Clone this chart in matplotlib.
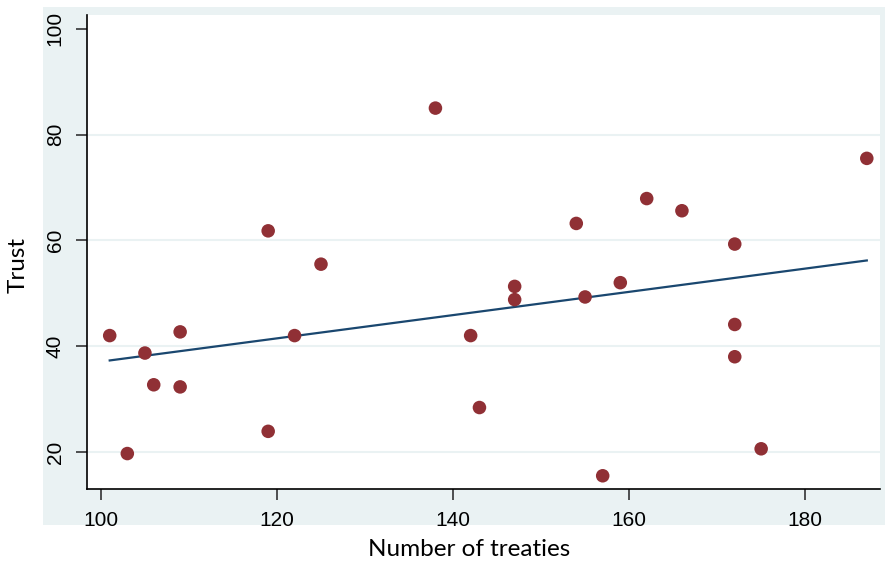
import numpy as np
import matplotlib
matplotlib.use("Agg")
import matplotlib.pyplot as plt
from matplotlib.patches import Rectangle

treaties = [101, 103, 105, 106, 109, 109, 119, 119, 122, 125, 138, 142, 143,
            147, 147, 154, 155, 157, 159, 162, 166, 172, 172, 172, 175, 187]
trust = [42.0, 19.7, 38.7, 32.7, 42.7, 32.3, 61.8, 23.9, 42.0, 55.5, 85.0,
         42.0, 28.4, 51.3, 48.8, 63.2, 49.3, 15.5, 52.0, 67.9, 65.6, 59.3,
         44.1, 38.0, 20.6, 75.5]
# fitted line (end points)
fit_x = [101, 187]
fit_y = [37.3, 56.2]

xticks = [100, 120, 140, 160, 180]
yticks = [20, 40, 60, 80, 100]

plt.rcParams['font.family'] = ['Liberation Sans', 'DejaVu Sans']

fig = plt.figure(figsize=(8.85, 5.63), dpi=100)
W, H = 885, 563

# stata style outer panel, drawn in its own axes behind the plot
bg = fig.add_axes([0, 0, 1, 1], zorder=0)
bg.set_axis_off()
bg.set_xlim(0, W)
bg.set_ylim(H, 0)
bg.add_patch(Rectangle((43, 7), 885 - 43, 525 - 7, facecolor='#eaf2f3',
                       edgecolor='none'))

ax = fig.add_axes([87 / W, 1 - 489 / H, (880 - 87) / W, (489 - 15) / H], zorder=1)
ax.set_facecolor('white')
ax.set_xlim(98.42, 188.5)
ax.set_ylim(13.0, 102.6)

for y in yticks[:-1]:
    ax.axhline(y, color='#eaf2f3', lw=1.5, zorder=1)

ax.plot(fit_x, fit_y, color='#1a476f', lw=1.6, zorder=2)
ax.scatter(treaties, trust, s=95, color='#903035', edgecolors='none', zorder=3)

for s in ['top', 'right']:
    ax.spines[s].set_visible(False)
for s in ['left', 'bottom']:
    ax.spines[s].set_color('black')
    ax.spines[s].set_linewidth(1.2)

ax.set_xticks(xticks)
ax.set_yticks(yticks)
ax.tick_params(axis='both', length=8, width=1.2, color='#333333', pad=8,
               labelsize=15, labelcolor='black')
plt.setp(ax.get_yticklabels(), rotation=90, va='center')

fig.text(469 / W, 1 - 549 / H, 'Number of treaties', fontsize=17.5,
         family=['Lato', 'DejaVu Sans'], ha='center', va='center')
fig.text(18 / W, 1 - 265 / H, 'Trust', fontsize=17.5, rotation=90,
         family=['Lato', 'DejaVu Sans'], ha='center', va='center')

fig.savefig('out.png', dpi=100)
